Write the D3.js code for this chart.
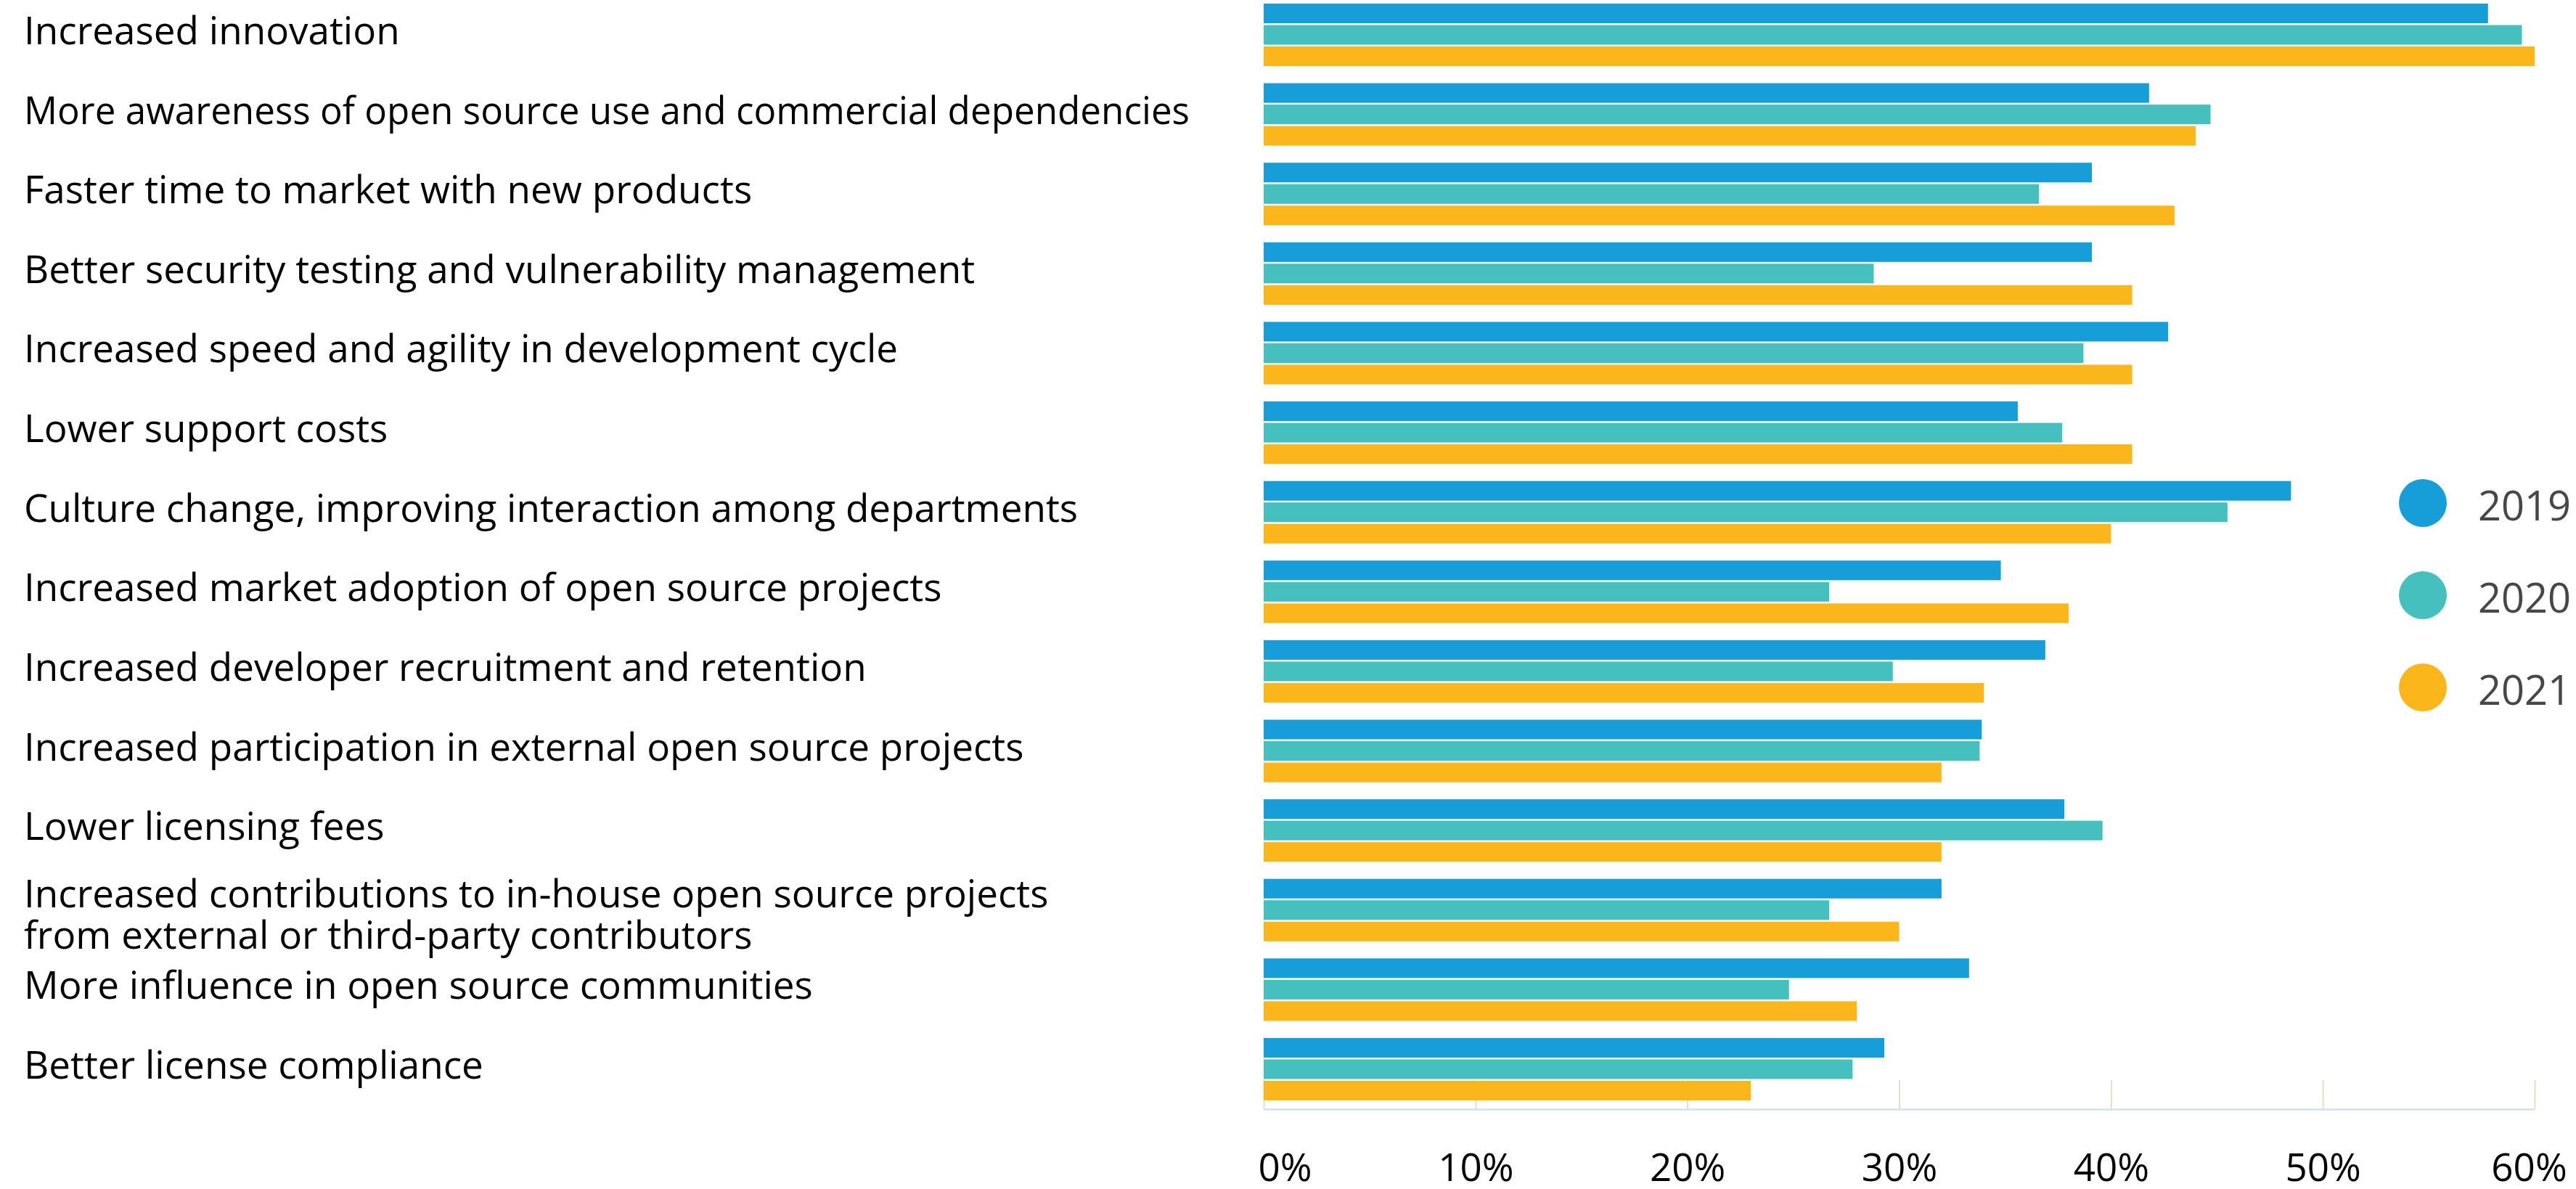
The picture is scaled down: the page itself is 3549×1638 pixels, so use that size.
<!DOCTYPE html>
<html>
<head>
<meta charset="utf-8">
<script src="https://cdn.jsdelivr.net/npm/d3@7"></script>
<style>
  body { margin: 0; background: #fff; }
  svg { display: block; font-family: "Open Sans", sans-serif; }
</style>
</head>
<body>
<div id="chart"></div>
<script>
// categories (top to bottom)
const categories = [
  "Increased innovation",
  "More awareness of open source use and commercial dependencies",
  "Faster time to market with new products",
  "Better security testing and vulnerability management",
  "Increased speed and agility in development cycle",
  "Lower support costs",
  "Culture change, improving interaction among departments",
  "Increased market adoption of open source projects",
  "Increased developer recruitment and retention",
  "Increased participation in external open source projects",
  "Lower licensing fees",
  "Increased contributions to in-house open source projects\nfrom external or third-party contributors",
  "More influence in open source communities",
  "Better license compliance"
];
const years = ["2019", "2020", "2021"];
const values2019 = [57.8, 41.8, 39.1, 39.1, 42.7, 35.6, 48.5, 34.8, 36.9, 33.9, 37.8, 32.0, 33.3, 29.3];
const values2020 = [59.4, 44.7, 36.6, 28.8, 38.7, 37.7, 45.5, 26.7, 29.7, 33.8, 39.6, 26.7, 24.8, 27.8];
const values2021 = [60, 44, 43, 41, 41, 41, 40, 38, 34, 32, 32, 30, 28, 23];
const xTicks = [0, 10, 20, 30, 40, 50, 60];
const colors = ["#179dd8", "#45c0bf", "#fbb61c"];

const width = 3549;
const height = 1638;
const axisY = 1528;

const series = [values2019, values2020, values2021];
const rows = categories.map((c, i) => ({
  name: c,
  values: years.map((y, j) => ({ year: y, value: series[j][i] }))
}));

const svg = d3.select("#chart").append("svg")
  .attr("width", width)
  .attr("height", height);

const x = d3.scaleLinear().domain([0, 60]).range([1741, 3492]);
const y0 = d3.scaleBand().domain(categories).range([5, 1516]).paddingInner(0.215).paddingOuter(0);
const y1 = d3.scaleBand().domain(years).range([0, y0.bandwidth()]).paddingInner(0.085);
const color = d3.scaleOrdinal().domain(years).range(colors);

// x 축 (틱은 위쪽으로)
const axis = svg.append("g")
  .attr("transform", `translate(0,${axisY})`)
  .call(d3.axisBottom(x)
    .tickValues(xTicks)
    .tickFormat(d => d + "%")
    .tickSizeInner(-40)
    .tickSizeOuter(0)
    .tickPadding(61));
axis.select(".domain").attr("stroke", "#d5e2e5").attr("stroke-width", 2.5);
axis.selectAll(".tick line").attr("stroke", "#e8dec6").attr("stroke-width", 2);
axis.selectAll(".tick text")
  .attr("fill", "#000")
  .style("font-size", "53px")
  .style("font-family", "'Open Sans', sans-serif");
// 양 끝 라벨은 약간 안쪽으로
axis.select(".tick text").attr("text-anchor", "start").attr("x", -8);
axis.selectAll(".tick text").filter(d => d === 60).attr("x", -8);

// 막대
const group = svg.append("g").selectAll("g")
  .data(rows)
  .enter().append("g")
  .attr("transform", d => `translate(0,${y0(d.name)})`);

group.selectAll("rect")
  .data(d => d.values)
  .enter().append("rect")
  .attr("x", x(0))
  .attr("y", d => y1(d.year))
  .attr("width", d => x(d.value) - x(0))
  .attr("height", y1.bandwidth())
  .attr("fill", d => color(d.year));

// 카테고리 라벨
const lineGap = 57;
const labelX = 33;
const maxLabelWidth = 1606; // 막대 영역과 겹치지 않도록
const labels = svg.append("g").selectAll("text")
  .data(rows)
  .enter().append("text")
  .attr("x", labelX)
  .attr("fill", "#000")
  .style("font-size", "53px");

labels.each(function(d) {
  const lines = d.name.split("\n");
  const cy = y0(d.name) + y0.bandwidth() / 2 + 13;
  d3.select(this).selectAll("tspan")
    .data(lines)
    .enter().append("tspan")
    .attr("x", labelX)
    .attr("y", (l, k) => cy + (k - (lines.length - 1) / 2) * lineGap + (lines.length > 1 ? 12 : 0))
    .text(l => l)
    .each(function() {
      if (this.getComputedTextLength() > maxLabelWidth) {
        d3.select(this)
          .attr("textLength", maxLabelWidth)
          .attr("lengthAdjust", "spacingAndGlyphs");
      }
    });
});

// 범례
const legendY = d3.scalePoint().domain(years).range([693, 947]);
const legend = svg.append("g").selectAll("g")
  .data(years)
  .enter().append("g")
  .attr("transform", d => `translate(3338,${legendY(d)})`);

legend.append("circle")
  .attr("r", 33)
  .attr("fill", d => color(d));

legend.append("text")
  .attr("x", 76)
  .attr("y", 24)
  .attr("fill", "#474747")
  .style("font-size", "56px")
  .text(d => d);
</script>
</body>
</html>
